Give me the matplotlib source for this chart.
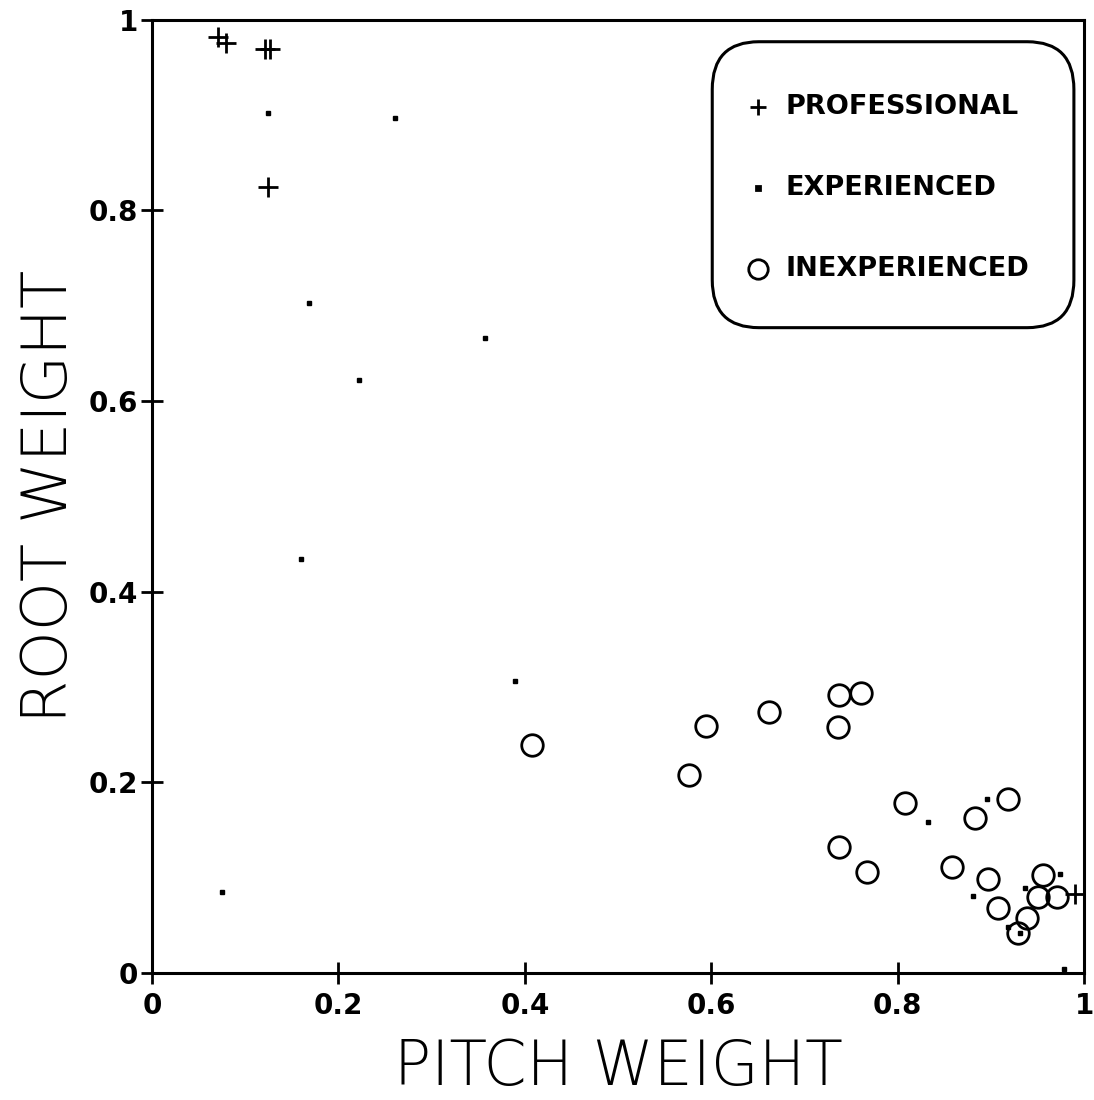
import matplotlib.pyplot as plt
from matplotlib.patches import FancyBboxPatch

plt.rcParams.update({
    "font.family": "DejaVu Sans",
    "axes.linewidth": 2.2,
})

# professional (+)
pro_x = [0.071, 0.079, 0.121, 0.126, 0.124, 0.990]
pro_y = [0.982, 0.976, 0.969, 0.969, 0.825, 0.083]

# experienced (.)
exp_x = [0.124, 0.261, 0.168, 0.357, 0.222, 0.160, 0.389, 0.075,
         0.832, 0.896, 0.881, 0.937, 0.974, 0.931, 0.918, 0.978]
exp_y = [0.902, 0.897, 0.703, 0.666, 0.622, 0.434, 0.306, 0.085,
         0.158, 0.182, 0.081, 0.089, 0.104, 0.042, 0.048, 0.004]

# inexperienced (O)
inexp_x = [0.408, 0.576, 0.594, 0.662, 0.737, 0.761, 0.736, 0.737, 0.767,
           0.808, 0.883, 0.918, 0.858, 0.897, 0.908, 0.939, 0.929, 0.956,
           0.951, 0.971]
inexp_y = [0.239, 0.208, 0.259, 0.274, 0.292, 0.294, 0.258, 0.132, 0.106,
           0.178, 0.163, 0.183, 0.111, 0.099, 0.068, 0.058, 0.042, 0.103,
           0.080, 0.080]

ticks = [0, 0.2, 0.4, 0.6, 0.8, 1]
tick_labels = ["0", "0.2", "0.4", "0.6", "0.8", "1"]

fig = plt.figure(figsize=(10.94, 11.0), dpi=100)
ax = fig.add_axes([0.139, 0.1155, 0.852, 0.8665])

ax.plot(pro_x, pro_y, ls="none", marker="+", ms=14, mew=2.0, color="black", clip_on=False)
ax.plot(exp_x, exp_y, ls="none", marker="s", ms=3.5, color="black", clip_on=False)
ax.plot(inexp_x, inexp_y, ls="none", marker="o", ms=15.5, mew=2.0,
        mfc="none", mec="black", clip_on=False)

ax.set_xlim(0, 1)
ax.set_ylim(0, 1)
ax.set_xticks(ticks)
ax.set_xticklabels(tick_labels)
ax.set_yticks(ticks)
ax.set_yticklabels(tick_labels)
ax.tick_params(direction="inout", length=16, width=2, labelsize=20)
ax.tick_params(axis="x", pad=6)
ax.tick_params(axis="y", pad=2)
for lab in ax.get_xticklabels() + ax.get_yticklabels():
    lab.set_fontweight("bold")

ax.set_xlabel("PITCH WEIGHT", fontsize=44.5, fontweight="light", labelpad=13)
ax.set_ylabel("ROOT WEIGHT", fontsize=45, fontweight="light", labelpad=6)

# legend box, drawn by hand to get the rounded frame
box = FancyBboxPatch((0.601, 0.677), 0.388, 0.300, transform=ax.transAxes,
                     boxstyle="round,pad=0,rounding_size=0.05",
                     fc="white", ec="black", lw=2.2, zorder=5)
ax.add_patch(box)

entries = [("+", 12, "PROFESSIONAL", 0.908),
           ("s", 3.5, "EXPERIENCED", 0.824),
           ("o", 14, "INEXPERIENCED", 0.739)]
for mk, ms, label, yy in entries:
    if mk == "o":
        ax.plot([0.650], [yy], marker=mk, ms=ms, mew=2, mfc="none", mec="black",
                transform=ax.transAxes, zorder=6)
    else:
        ax.plot([0.650], [yy], marker=mk, ms=ms, mew=2, color="black",
                transform=ax.transAxes, zorder=6)
    ax.text(0.680, yy, label, transform=ax.transAxes, fontsize=19.5,
            fontweight="bold", va="center", ha="left", zorder=6)

fig.savefig("out.png", dpi=100, facecolor="white")
